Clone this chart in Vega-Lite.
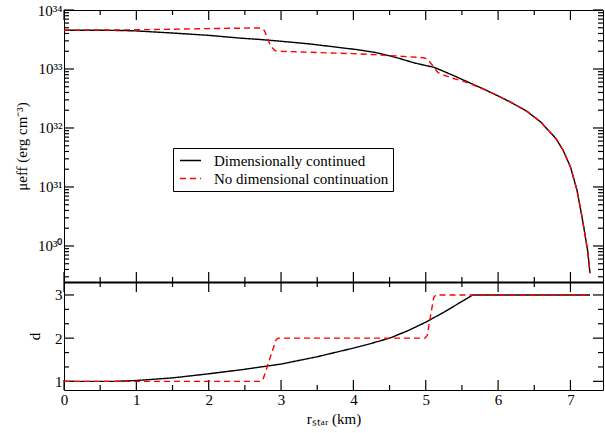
{
  "$schema": "https://vega.github.io/schema/vega-lite/v6.json",
  "background": "white",
  "padding": {"left": 13, "top": 2, "right": 2, "bottom": 0},
  "spacing": 0,
  "bounds": "flush",
  "config": {
    "font": "Liberation Serif",
    "view": {"stroke": "black", "strokeWidth": 1},
    "axis": {
      "domainColor": "black", "labelColor": "black", "titleColor": "black",
      "labelFont": "Liberation Serif", "titleFont": "Liberation Serif",
      "labelFontSize": 15, "titleFontSize": 15, "titleFontWeight": "normal",
      "labelFlush": false, "labelOverlap": false, "ticks": false, "domain": false, "grid": false
    },
    "point": {"filled": false, "color": "black", "stroke": "black", "strokeWidth": 1.2, "opacity": 1},
    "legend": {"labelFont": "Liberation Serif", "labelFontSize": 15, "labelColor": "black", "labelLimit": 0}
  },
  "datasets": {
    "top": [
      {"r": 0, "mu": 4.55e33, "series": "Dimensionally continued"},
      {"r": 0.5, "mu": 4.54e33, "series": "Dimensionally continued"},
      {"r": 0.8, "mu": 4.49e33, "series": "Dimensionally continued"},
      {"r": 1.0, "mu": 4.42e33, "series": "Dimensionally continued"},
      {"r": 1.5, "mu": 4.07e33, "series": "Dimensionally continued"},
      {"r": 2.0, "mu": 3.72e33, "series": "Dimensionally continued"},
      {"r": 2.44, "mu": 3.33e33, "series": "Dimensionally continued"},
      {"r": 2.72, "mu": 3.16e33, "series": "Dimensionally continued"},
      {"r": 3.0, "mu": 2.95e33, "series": "Dimensionally continued"},
      {"r": 3.37, "mu": 2.68e33, "series": "Dimensionally continued"},
      {"r": 3.7, "mu": 2.40e33, "series": "Dimensionally continued"},
      {"r": 4.06, "mu": 2.12e33, "series": "Dimensionally continued"},
      {"r": 4.3, "mu": 1.91e33, "series": "Dimensionally continued"},
      {"r": 4.52, "mu": 1.65e33, "series": "Dimensionally continued"},
      {"r": 4.65, "mu": 1.49e33, "series": "Dimensionally continued"},
      {"r": 4.85, "mu": 1.26e33, "series": "Dimensionally continued"},
      {"r": 5.11, "mu": 1.07e33, "series": "Dimensionally continued"},
      {"r": 5.21, "mu": 9.55e32, "series": "Dimensionally continued"},
      {"r": 5.4, "mu": 7.59e32, "series": "Dimensionally continued"},
      {"r": 5.58, "mu": 6.03e32, "series": "Dimensionally continued"},
      {"r": 5.8, "mu": 4.57e32, "series": "Dimensionally continued"},
      {"r": 6.04, "mu": 3.31e32, "series": "Dimensionally continued"},
      {"r": 6.2, "mu": 2.63e32, "series": "Dimensionally continued"},
      {"r": 6.4, "mu": 1.91e32, "series": "Dimensionally continued"},
      {"r": 6.59, "mu": 1.26e32, "series": "Dimensionally continued"},
      {"r": 6.8, "mu": 6.61e31, "series": "Dimensionally continued"},
      {"r": 6.9, "mu": 4.17e31, "series": "Dimensionally continued"},
      {"r": 7.0, "mu": 2.19e31, "series": "Dimensionally continued"},
      {"r": 7.09, "mu": 8.91e30, "series": "Dimensionally continued"},
      {"r": 7.16, "mu": 3.09e30, "series": "Dimensionally continued"},
      {"r": 7.2, "mu": 1.59e30, "series": "Dimensionally continued"},
      {"r": 7.24, "mu": 7.94e29, "series": "Dimensionally continued"},
      {"r": 7.27, "mu": 3.47e29, "series": "Dimensionally continued"},
      {"r": 0, "mu": 4.55e33, "series": "No dimensional continuation"},
      {"r": 0.5, "mu": 4.57e33, "series": "No dimensional continuation"},
      {"r": 1.0, "mu": 4.62e33, "series": "No dimensional continuation"},
      {"r": 1.5, "mu": 4.72e33, "series": "No dimensional continuation"},
      {"r": 2.0, "mu": 4.84e33, "series": "No dimensional continuation"},
      {"r": 2.6, "mu": 4.95e33, "series": "No dimensional continuation"},
      {"r": 2.72, "mu": 4.95e33, "series": "No dimensional continuation"},
      {"r": 2.77, "mu": 4.5e33, "series": "No dimensional continuation"},
      {"r": 2.86, "mu": 2.4e33, "series": "No dimensional continuation"},
      {"r": 2.92, "mu": 2.04e33, "series": "No dimensional continuation"},
      {"r": 3.0, "mu": 2.0e33, "series": "No dimensional continuation"},
      {"r": 3.5, "mu": 1.9e33, "series": "No dimensional continuation"},
      {"r": 4.0, "mu": 1.82e33, "series": "No dimensional continuation"},
      {"r": 4.3, "mu": 1.75e33, "series": "No dimensional continuation"},
      {"r": 4.6, "mu": 1.66e33, "series": "No dimensional continuation"},
      {"r": 4.97, "mu": 1.55e33, "series": "No dimensional continuation"},
      {"r": 5.02, "mu": 1.49e33, "series": "No dimensional continuation"},
      {"r": 5.1, "mu": 1.12e33, "series": "No dimensional continuation"},
      {"r": 5.17, "mu": 8.7e32, "series": "No dimensional continuation"},
      {"r": 5.25, "mu": 7.9e32, "series": "No dimensional continuation"},
      {"r": 5.35, "mu": 7.1e32, "series": "No dimensional continuation"},
      {"r": 5.5, "mu": 6.3e32, "series": "No dimensional continuation"},
      {"r": 5.62, "mu": 5.6e32, "series": "No dimensional continuation"},
      {"r": 5.8, "mu": 4.57e32, "series": "No dimensional continuation"},
      {"r": 6.04, "mu": 3.31e32, "series": "No dimensional continuation"},
      {"r": 6.2, "mu": 2.63e32, "series": "No dimensional continuation"},
      {"r": 6.4, "mu": 1.91e32, "series": "No dimensional continuation"},
      {"r": 6.59, "mu": 1.26e32, "series": "No dimensional continuation"},
      {"r": 6.8, "mu": 6.61e31, "series": "No dimensional continuation"},
      {"r": 6.9, "mu": 4.17e31, "series": "No dimensional continuation"},
      {"r": 7.0, "mu": 2.19e31, "series": "No dimensional continuation"},
      {"r": 7.09, "mu": 8.91e30, "series": "No dimensional continuation"},
      {"r": 7.16, "mu": 3.09e30, "series": "No dimensional continuation"},
      {"r": 7.2, "mu": 1.59e30, "series": "No dimensional continuation"},
      {"r": 7.24, "mu": 7.94e29, "series": "No dimensional continuation"},
      {"r": 7.27, "mu": 3.47e29, "series": "No dimensional continuation"}
    ],
    "bot": [
      {"r": 0, "d": 1.0, "series": "Dimensionally continued"},
      {"r": 0.7, "d": 1.0, "series": "Dimensionally continued"},
      {"r": 1.0, "d": 1.02, "series": "Dimensionally continued"},
      {"r": 1.5, "d": 1.08, "series": "Dimensionally continued"},
      {"r": 2.0, "d": 1.175, "series": "Dimensionally continued"},
      {"r": 2.5, "d": 1.28, "series": "Dimensionally continued"},
      {"r": 3.0, "d": 1.4, "series": "Dimensionally continued"},
      {"r": 3.5, "d": 1.57, "series": "Dimensionally continued"},
      {"r": 4.0, "d": 1.77, "series": "Dimensionally continued"},
      {"r": 4.25, "d": 1.88, "series": "Dimensionally continued"},
      {"r": 4.5, "d": 2.0, "series": "Dimensionally continued"},
      {"r": 4.75, "d": 2.17, "series": "Dimensionally continued"},
      {"r": 5.0, "d": 2.37, "series": "Dimensionally continued"},
      {"r": 5.25, "d": 2.6, "series": "Dimensionally continued"},
      {"r": 5.45, "d": 2.8, "series": "Dimensionally continued"},
      {"r": 5.65, "d": 3.0, "series": "Dimensionally continued"},
      {"r": 7.27, "d": 3.0, "series": "Dimensionally continued"},
      {"r": 0, "d": 1.0, "series": "No dimensional continuation"},
      {"r": 2.72, "d": 1.0, "series": "No dimensional continuation"},
      {"r": 2.75, "d": 1.04, "series": "No dimensional continuation"},
      {"r": 2.93, "d": 1.96, "series": "No dimensional continuation"},
      {"r": 2.96, "d": 2.0, "series": "No dimensional continuation"},
      {"r": 4.99, "d": 2.0, "series": "No dimensional continuation"},
      {"r": 5.02, "d": 2.06, "series": "No dimensional continuation"},
      {"r": 5.11, "d": 2.94, "series": "No dimensional continuation"},
      {"r": 5.14, "d": 3.0, "series": "No dimensional continuation"},
      {"r": 7.27, "d": 3.0, "series": "No dimensional continuation"}
    ],
    "xticks": [
      {"v": 0, "major": 1}, {"v": 0.5, "major": 0}, {"v": 1, "major": 1}, {"v": 1.5, "major": 0},
      {"v": 2, "major": 1}, {"v": 2.5, "major": 0}, {"v": 3, "major": 1}, {"v": 3.5, "major": 0},
      {"v": 4, "major": 1}, {"v": 4.5, "major": 0}, {"v": 5, "major": 1}, {"v": 5.5, "major": 0},
      {"v": 6, "major": 1}, {"v": 6.5, "major": 0}, {"v": 7, "major": 1}
    ],
    "muticks": [
      {"v": 3e29, "major": 0}, {"v": 4e29, "major": 0}, {"v": 5e29, "major": 0}, {"v": 6e29, "major": 0}, {"v": 7e29, "major": 0}, {"v": 8e29, "major": 0}, {"v": 9e29, "major": 0},
      {"v": 1e30, "major": 1}, {"v": 2e30, "major": 0}, {"v": 3e30, "major": 0}, {"v": 4e30, "major": 0}, {"v": 5e30, "major": 0}, {"v": 6e30, "major": 0}, {"v": 7e30, "major": 0}, {"v": 8e30, "major": 0}, {"v": 9e30, "major": 0},
      {"v": 1e31, "major": 1}, {"v": 2e31, "major": 0}, {"v": 3e31, "major": 0}, {"v": 4e31, "major": 0}, {"v": 5e31, "major": 0}, {"v": 6e31, "major": 0}, {"v": 7e31, "major": 0}, {"v": 8e31, "major": 0}, {"v": 9e31, "major": 0},
      {"v": 1e32, "major": 1}, {"v": 2e32, "major": 0}, {"v": 3e32, "major": 0}, {"v": 4e32, "major": 0}, {"v": 5e32, "major": 0}, {"v": 6e32, "major": 0}, {"v": 7e32, "major": 0}, {"v": 8e32, "major": 0}, {"v": 9e32, "major": 0},
      {"v": 1e33, "major": 1}, {"v": 2e33, "major": 0}, {"v": 3e33, "major": 0}, {"v": 4e33, "major": 0}, {"v": 5e33, "major": 0}, {"v": 6e33, "major": 0}, {"v": 7e33, "major": 0}, {"v": 8e33, "major": 0}, {"v": 9e33, "major": 0},
      {"v": 1e34, "major": 1}
    ],
    "dticks": [
      {"v": 1, "major": 1}, {"v": 1.3333333, "major": 0}, {"v": 1.6666667, "major": 0}, {"v": 2, "major": 1},
      {"v": 2.3333333, "major": 0}, {"v": 2.6666667, "major": 0}, {"v": 3, "major": 1}
    ]
  },
  "resolve": {
    "scale": {"color": "independent", "strokeDash": "independent"},
    "legend": {"color": "independent", "strokeDash": "independent"}
  },
  "vconcat": [
    {
      "width": 539,
      "height": 272,
      "resolve": {"axis": {"x": "independent", "y": "independent"}},
      "layer": [
        {
          "data": {"name": "top"},
          "mark": {"type": "line", "opacity": 0},
          "encoding": {
            "x": {
              "field": "r", "type": "quantitative",
              "scale": {"domain": [0, 7.45], "nice": false, "zero": false},
              "axis": {"orient": "bottom", "title": null, "labels": false, "domain": true, "domainWidth": 2}
            },
            "y": {
              "field": "mu", "type": "quantitative",
              "scale": {"type": "log", "domain": [2.45e29, 1e34], "nice": false},
              "axis": {
                "orient": "left", "title": "μeff (erg cm⁻³)", "titlePadding": 8,
                "values": [1e30, 1e31, 1e32, 1e33, 1e34],
                "labelExpr": "datum.value == 1e34 ? '10³⁴' : datum.value == 1e33 ? '10³³' : datum.value == 1e32 ? '10³²' : datum.value == 1e31 ? '10³¹' : '10³⁰'",
                "labelPadding": 2
              }
            },
            "detail": {"field": "series", "type": "nominal"}
          }
        },
        {
          "data": {"name": "xticks"},
          "mark": {"type": "point", "shape": "M0,0V-1", "filled": false, "stroke": "black", "strokeWidth": 1.2, "opacity": 1},
          "encoding": {
            "x": {"field": "v", "type": "quantitative", "axis": null},
            "y": {"datum": 2.45e29, "type": "quantitative", "axis": null},
            "size": {"condition": {"test": "datum.major == 1", "value": 400}, "value": 100}
          }
        },
        {
          "data": {"name": "xticks"},
          "mark": {"type": "point", "shape": "M0,0V1", "filled": false, "stroke": "black", "strokeWidth": 1.2, "opacity": 1},
          "encoding": {
            "x": {"field": "v", "type": "quantitative", "axis": null},
            "y": {"datum": 1e34, "type": "quantitative", "axis": null},
            "size": {"condition": {"test": "datum.major == 1", "value": 400}, "value": 100}
          }
        },
        {
          "data": {"name": "muticks"},
          "mark": {"type": "point", "shape": "M0,0H1", "filled": false, "stroke": "black", "strokeWidth": 1.2, "opacity": 1},
          "encoding": {
            "y": {"field": "v", "type": "quantitative", "axis": null},
            "x": {"datum": 0, "type": "quantitative", "axis": null},
            "size": {"condition": {"test": "datum.major == 1", "value": 400}, "value": 100}
          }
        },
        {
          "data": {"name": "muticks"},
          "mark": {"type": "point", "shape": "M0,0H-1", "filled": false, "stroke": "black", "strokeWidth": 1.2, "opacity": 1},
          "encoding": {
            "y": {"field": "v", "type": "quantitative", "axis": null},
            "x": {"datum": 7.45, "type": "quantitative", "axis": null},
            "size": {"condition": {"test": "datum.major == 1", "value": 400}, "value": 100}
          }
        },
        {
          "data": {"name": "top"},
          "mark": {"type": "line", "strokeWidth": 1.4, "clip": true},
          "encoding": {
            "x": {"field": "r", "type": "quantitative", "axis": null},
            "y": {"field": "mu", "type": "quantitative", "axis": null},
            "color": {
              "field": "series", "type": "nominal",
              "scale": {"domain": ["Dimensionally continued", "No dimensional continuation"], "range": ["black", "#ff0000"]},
              "legend": {"orient": "none", "legendX": 109, "legendY": 138, "title": null, "strokeColor": "black", "padding": 4, "symbolType": "M-1.4,0H1.4", "symbolSize": 225, "symbolStrokeWidth": 1.5, "rowPadding": 1, "labelOffset": 15, "symbolOffset": 5}
            },
            "strokeDash": {
              "field": "series", "type": "nominal",
              "scale": {"domain": ["Dimensionally continued", "No dimensional continuation"], "range": [[1, 0], [6, 4]]},
              "legend": {"orient": "none", "legendX": 109, "legendY": 138, "title": null, "strokeColor": "black", "padding": 4, "symbolType": "M-1.4,0H1.4", "symbolSize": 225, "symbolStrokeWidth": 1.5, "rowPadding": 1, "labelOffset": 15, "symbolOffset": 5}
            }
          }
        }
      ]
    },
    {
      "width": 539,
      "height": 108,
      "resolve": {"axis": {"x": "independent", "y": "independent"}},
      "layer": [
        {
          "data": {"name": "bot"},
          "mark": {"type": "line", "opacity": 0},
          "encoding": {
            "x": {
              "field": "r", "type": "quantitative",
              "scale": {"domain": [0, 7.45], "nice": false, "zero": false},
              "axis": {
                "orient": "bottom", "title": "rₛₜₐᵣ (km)", "titlePadding": 4,
                "values": [0, 1, 2, 3, 4, 5, 6, 7], "format": "d", "labelPadding": 2
              }
            },
            "y": {
              "field": "d", "type": "quantitative",
              "scale": {"domain": [0.8, 3.3], "nice": false, "zero": false},
              "axis": {
                "orient": "left", "title": "d", "titlePadding": 12,
                "values": [1, 2, 3], "format": "d", "labelPadding": 2
              }
            },
            "detail": {"field": "series", "type": "nominal"}
          }
        },
        {
          "data": {"name": "xticks"},
          "mark": {"type": "point", "shape": "M0,0V-1", "filled": false, "stroke": "black", "strokeWidth": 1.2, "opacity": 1},
          "encoding": {
            "x": {"field": "v", "type": "quantitative", "axis": null},
            "y": {"datum": 0.8, "type": "quantitative", "axis": null},
            "size": {"condition": {"test": "datum.major == 1", "value": 400}, "value": 100}
          }
        },
        {
          "data": {"name": "xticks"},
          "mark": {"type": "point", "shape": "M0,0V1", "filled": false, "stroke": "black", "strokeWidth": 1.2, "opacity": 1},
          "encoding": {
            "x": {"field": "v", "type": "quantitative", "axis": null},
            "y": {"datum": 3.3, "type": "quantitative", "axis": null},
            "size": {"condition": {"test": "datum.major == 1", "value": 400}, "value": 100}
          }
        },
        {
          "data": {"name": "dticks"},
          "mark": {"type": "point", "shape": "M0,0H1", "filled": false, "stroke": "black", "strokeWidth": 1.2, "opacity": 1},
          "encoding": {
            "y": {"field": "v", "type": "quantitative", "axis": null},
            "x": {"datum": 0, "type": "quantitative", "axis": null},
            "size": {"condition": {"test": "datum.major == 1", "value": 400}, "value": 100}
          }
        },
        {
          "data": {"name": "dticks"},
          "mark": {"type": "point", "shape": "M0,0H-1", "filled": false, "stroke": "black", "strokeWidth": 1.2, "opacity": 1},
          "encoding": {
            "y": {"field": "v", "type": "quantitative", "axis": null},
            "x": {"datum": 7.45, "type": "quantitative", "axis": null},
            "size": {"condition": {"test": "datum.major == 1", "value": 400}, "value": 100}
          }
        },
        {
          "data": {"name": "bot"},
          "mark": {"type": "line", "strokeWidth": 1.4, "clip": true},
          "encoding": {
            "x": {"field": "r", "type": "quantitative", "axis": null},
            "y": {"field": "d", "type": "quantitative", "axis": null},
            "color": {
              "field": "series", "type": "nominal",
              "scale": {"domain": ["Dimensionally continued", "No dimensional continuation"], "range": ["black", "#ff0000"]},
              "legend": null
            },
            "strokeDash": {
              "field": "series", "type": "nominal",
              "scale": {"domain": ["Dimensionally continued", "No dimensional continuation"], "range": [[1, 0], [6, 4]]},
              "legend": null
            }
          }
        }
      ]
    }
  ]
}
